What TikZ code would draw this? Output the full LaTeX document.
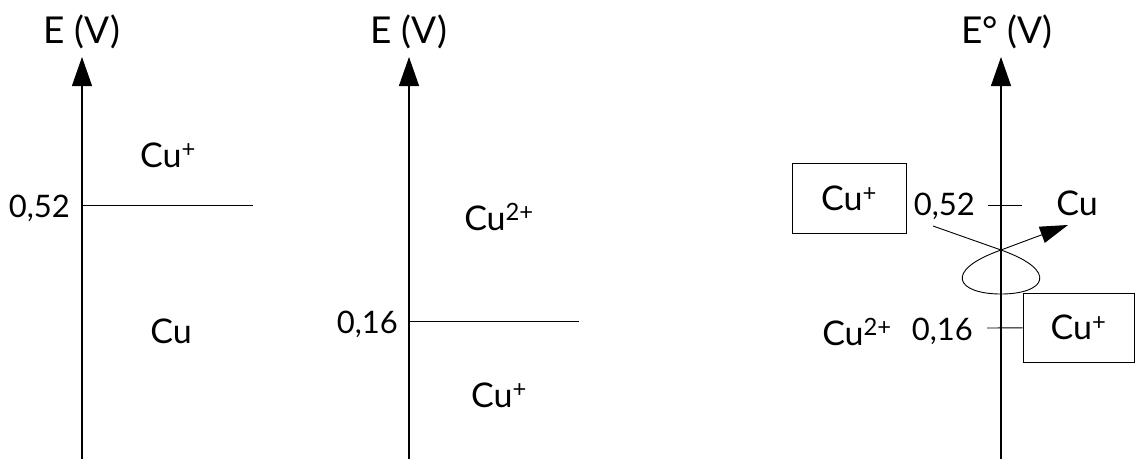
\documentclass[tikz,border=0pt]{standalone}
\usepackage{fontspec}
\setmainfont{Lato}
\usetikzlibrary{arrows.meta, positioning}

\begin{document}
\begin{tikzpicture}[x=1pt, y=-1pt,
    eaxis/.style={-{Triangle[length=29pt,width=20pt]}, line width=1.1pt},
    lvline/.style={line width=0.9pt},
    species/.style={font=\fontsize{34}{40}\selectfont, inner sep=0pt, anchor=base},
    axlabel/.style={species, font=\fontsize{37}{44}\selectfont},
    potval/.style={species, anchor=base east, font=\fontsize{31}{36}\selectfont},
    boxed/.style={species, anchor=center, draw, line width=0.9pt,
                  minimum width=114pt, minimum height=70pt},
    swaparrow/.style={-{Triangle[length=28pt,width=17pt]}, line width=0.9pt},
  ]
  \useasboundingbox (0,0) rectangle (1135,459);

  % Cu+ / Cu
  \coordinate (a1bot) at (82,459);
  \coordinate (a1top) at (82,57);
  \node[axlabel] (a1lab) at (82,43) {E (V)};
  \draw[eaxis] (a1bot) -- (a1top);
  \coordinate (l52) at (82,205);
  \coordinate (l52end) at (253,205);
  \draw[lvline] (l52) -- (l52end);
  \node[potval] (v52) at (70,217) {0,52};
  \node[species] (cup1) at (168,167) {Cu\textsuperscript{+}};
  \node[species] (cu1) at (171,343) {Cu};

  % Cu2+ / Cu+
  \coordinate (a2bot) at (409,459);
  \coordinate (a2top) at (409,57);
  \node[axlabel] (a2lab) at (409,43) {E (V)};
  \draw[eaxis] (a2bot) -- (a2top);
  \coordinate (l16) at (409,321);
  \coordinate (l16end) at (579,321);
  \draw[lvline] (l16) -- (l16end);
  \node[potval] (v16) at (398,333) {0,16};
  \node[species] (cu2p) at (499,230) {Cu\textsuperscript{2+}};
  \node[species] (cup2) at (499,407) {Cu\textsuperscript{+}};

  % dismutation
  \coordinate (a3bot) at (1001,459);
  \coordinate (a3top) at (1001,57);
  \node[axlabel] (a3lab) at (1007,43) {E° (V)};
  \draw[eaxis] (a3bot) -- (a3top);
  \node[boxed] (oxbox) at (849,198) {Cu\textsuperscript{+}};
  \node[potval] (v52b) at (975,215) {0,52};
  \coordinate (t52a) at (988,205);
  \coordinate (t52b) at (1022,205);
  \draw[lvline] (t52a) -- (t52b);
  \node[species] (cu3) at (1077,215) {Cu};
  \node[boxed, minimum width=111pt, minimum height=69pt] (redbox) at (1078.5,327.5)
        {Cu\textsuperscript{+}};
  \coordinate (t16a) at (987,328);
  \draw[lvline] (t16a) -- (redbox);
  \node[potval] (v16b) at (973,340) {0,16};
  \node[species] (cu2p3) at (857,345) {Cu\textsuperscript{2+}};

  \coordinate (sstart) at (933,226);
  \coordinate (scross) at (1001,250);
  \coordinate (sbot) at (1001,294);
  \coordinate (send) at (1068,225);
  \draw[swaparrow] (sstart) -- (scross)
        .. controls +(59,21) and +(44,0) .. (sbot)
        .. controls +(-44,0) and +(-59,21) .. (scross) -- (send);
\end{tikzpicture}
\end{document}
